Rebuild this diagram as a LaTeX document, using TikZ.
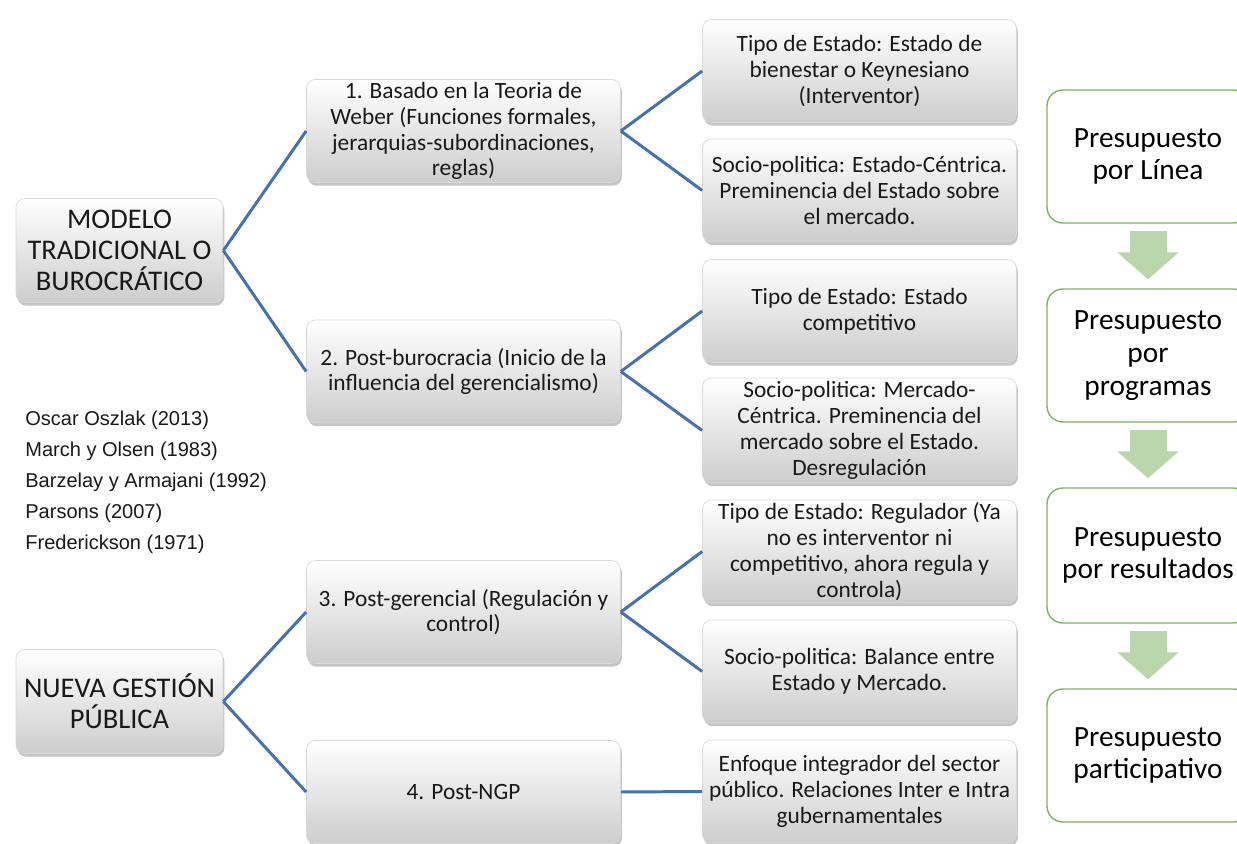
\documentclass[tikz,border=0pt]{standalone}
\usepackage{fontspec}
\setmainfont{Carlito}
\newfontfamily\reffont{Liberation Sans}
\usetikzlibrary{shadows,arrows.meta}

\definecolor{linkblue}{RGB}{68,114,176}
\definecolor{boxgray}{RGB}{205,205,205}
\definecolor{stepgreen}{RGB}{128,180,98}
\definecolor{arrowgreen}{RGB}{186,214,172}

\tikzset{
  greybox/.style={rectangle, rounded corners=5pt, draw=gray!30, top color=white, bottom color=boxgray,
    drop shadow={shadow xshift=0.8pt, shadow yshift=-1.8pt, opacity=0.45}, align=center, text=black!90, inner sep=1pt},
  rootbox/.style={greybox, minimum width=4.14cm, minimum height=2.08cm, font=\fontsize{16.2}{17.6}\selectfont},
  levelbox/.style={greybox, minimum width=6.28cm, minimum height=2.06cm, font=\fontsize{13.3}{14.7}\selectfont},
  stepbox/.style={rectangle, rounded corners=9pt, draw=stepgreen, line width=0.8pt, fill=white, align=center,
    minimum width=4.04cm, minimum height=2.66cm, font=\fontsize{16.7}{18.7}\selectfont},
  link/.style={linkblue, line width=1.7pt},
  blockarrow/.style={arrowgreen, line width=0.74cm, -{Triangle[width=1.2cm,length=0.54cm]},
    shorten <=0.14cm, shorten >=0.18cm}
}

\begin{document}
\begin{tikzpicture}[x=0.02cm, y=-0.02cm]

    \clip (0,0) rectangle (1237,844);
    \fill[white] (0,0) rectangle (1237,844);

    % Models
    \node[rootbox] (tradicional) at (119.5,250.5) {MODELO\\TRADICIONAL O\\BUROCRÁTICO};
    \node[rootbox] (ngp) at (119.5,701.5) {NUEVA GESTIÓN\\PÚBLICA};

    % Stages
    \node[levelbox] (weber) at (463.5,131) {1. Basado en la Teoria de\\Weber (Funciones formales,\\jerarquias-subordinaciones,\\reglas)};
    \node[levelbox] (postburo) at (463.5,371.5) {2. Post-burocracia (Inicio de la\\influencia del gerencialismo)};
    \node[levelbox] (postger) at (463.5,612) {3. Post-gerencial (Regulación y\\control)};
    \node[levelbox] (postngp) at (463.5,792) {4. Post-NGP};

    % State type and socio-politics
    \node[levelbox] (estadoA) at (859.5,71) {Tipo de Estado: Estado de\\bienestar o Keynesiano\\(Interventor)};
    \node[levelbox] (socioA) at (859.5,190.5) {Socio-politica: Estado-Céntrica.\\Preminencia del Estado sobre\\el mercado.};
    \node[levelbox] (estadoB) at (859.5,311) {Tipo de Estado: Estado\\competitivo};
    \node[levelbox, minimum height=2.1cm] (socioB) at (859.5,430.5) {Socio-politica: Mercado-\\Céntrica. Preminencia del\\mercado sobre el Estado.\\Desregulación};
    \node[levelbox] (estadoC) at (859.5,551.5) {Tipo de Estado: Regulador (Ya\\no es interventor ni\\competitivo, ahora regula y\\controla)};
    \node[levelbox] (socioC) at (859.5,671.5) {Socio-politica: Balance entre\\Estado y Mercado.};
    \node[levelbox] (integrador) at (859.5,791.5) {Enfoque integrador del sector\\público. Relaciones Inter e Intra\\gubernamentales};

    % Connectors
    \draw[link] (tradicional.east) -- (weber.west);
    \draw[link] (tradicional.east) -- (postburo.west);
    \draw[link] (ngp.east) -- (postger.west);
    \draw[link] (ngp.east) -- (postngp.west);
    \draw[link] (weber.east) -- (estadoA.west);
    \draw[link] (weber.east) -- (socioA.west);
    \draw[link] (postburo.east) -- (estadoB.west);
    \draw[link] (postburo.east) -- (socioB.west);
    \draw[link] (postger.east) -- (estadoC.west);
    \draw[link] (postger.east) -- (socioC.west);
    \draw[link] (postngp.east) -- (integrador.west);

    % Budget types
    \node[stepbox] (linea) at (1148,156.5) {Presupuesto\\por Línea};
    \node[stepbox] (programas) at (1148,355.5) {Presupuesto\\por\\programas};
    \node[stepbox, minimum height=2.7cm] (resultados) at (1148,555.5) {Presupuesto\\por resultados};
    \node[stepbox] (participativo) at (1148,755.5) {Presupuesto\\participativo};

    \draw[blockarrow] (linea.south) -- (programas.north);
    \draw[blockarrow] (programas.south) -- (resultados.north);
    \draw[blockarrow] (resultados.south) -- (participativo.north);

    % References
    \node[align=left, inner sep=0pt, anchor=west, text=black!90, font=\reffont\fontsize{11.4}{17.6}\selectfont] (autores) at (25,482)
        {Oscar Oszlak (2013)\\March y Olsen (1983)\\Barzelay y Armajani (1992)\\Parsons (2007)\\Frederickson (1971)};
\end{tikzpicture}
\end{document}
